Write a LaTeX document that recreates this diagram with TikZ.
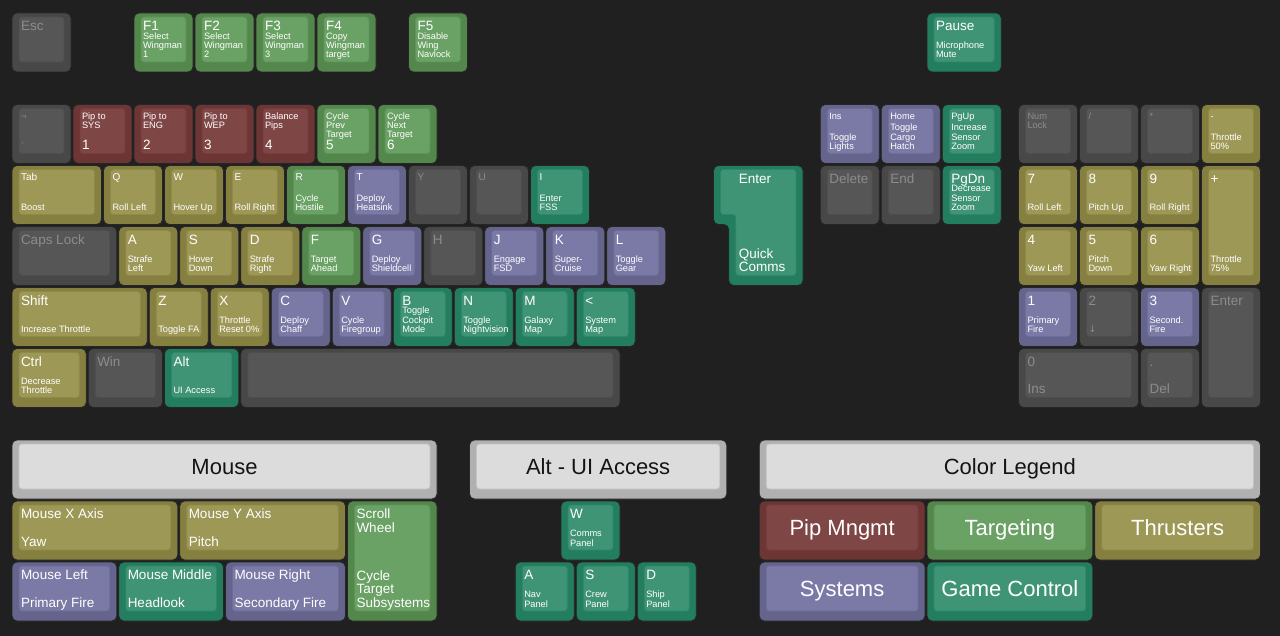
\documentclass[tikz,border=0pt]{standalone}
\usepackage{fontspec}
\setmainfont{Liberation Sans}
\newfontfamily\symfont{DejaVu Sans}

\definecolor{bgdark}{HTML}{202020}
\definecolor{kgrayO}{HTML}{484848}
\definecolor{kgrayI}{HTML}{565656}
\definecolor{kgrayT}{HTML}{8C8C8C}
\definecolor{kpipO}{HTML}{6E3535}
\definecolor{kpipI}{HTML}{7F4646}
\definecolor{ktgtO}{HTML}{54874C}
\definecolor{ktgtI}{HTML}{6AA164}
\definecolor{kthrO}{HTML}{857F40}
\definecolor{kthrI}{HTML}{9E9857}
\definecolor{ksysO}{HTML}{64648C}
\definecolor{ksysI}{HTML}{7B79A6}
\definecolor{kgameO}{HTML}{237D5F}
\definecolor{kgameI}{HTML}{409476}
\definecolor{kheadO}{HTML}{B0B0B0}
\definecolor{kheadI}{HTML}{DCDCDC}

\tikzset{
  keyout/.style={draw=black!85, line width=0.8pt, rounded corners=5pt},
  keycap/.style={line width=0.8pt, rounded corners=3pt, inner sep=0pt, outer sep=0pt},
  lab/.style={inner sep=0pt, outer sep=0pt, text=white, anchor=base west, xshift=2pt},
  tbig/.style={lab, font=\fontsize{13.5}{13}\selectfont, yshift=-13.7pt},
  tmid/.style={lab, font=\fontsize{10}{10}\selectfont, yshift=-11.2pt},
  tsml/.style={lab, font=\fontsize{9.25}{9.3}\selectfont, yshift=-10.6pt},
  bbig/.style={lab, yshift=4pt, font=\fontsize{13.5}{13}\selectfont},
  bsml/.style={lab, yshift=4pt, font=\fontsize{9.25}{9.3}\selectfont},
  dim/.style={text=kgrayT},
  midtext/.style={inner sep=0pt, text height=15.8pt, text depth=0pt, font=\fontsize{22}{22}\selectfont, text=white},
  headtext/.style={midtext, text=black!92}
}

% key: name, column, row, width, height (in key units), colour
\newcommand{\kbkey}[6]{%
  \draw[keyout, fill=#6O] ({12+#2*61},{13+#3*61}) rectangle ++({#4*61-2},{#5*61-2});
  \node[keycap, fill=#6I, draw=#6O!55!#6I, anchor=north west,
        minimum width={(#4*61-16)*1pt}, minimum height={(#5*61-16)*1pt}]
        (#1) at ({19+#2*61},{17+#3*61}) {};
}
% label lines, hung from the first baseline / stood on the last one
\newcommand{\ktop}[1]{\begin{tabular}[t]{@{}l@{}}#1\end{tabular}}
\newcommand{\kbot}[1]{\begin{tabular}[b]{@{}l@{}}#1\end{tabular}}

\begin{document}
\begin{tikzpicture}[x=1pt, y=-1pt]
\fill[bgdark] (0,0) rectangle (1280,636);

% function row
\kbkey{esc}{0}{0}{1}{1}{kgray}
\node[tbig, dim] (esc-t) at (esc.north west) {\ktop{Esc}};
\kbkey{f1}{2}{0}{1}{1}{ktgt}
\node[tbig] (f1-t) at (f1.north west) {\ktop{F1}};
\node[bsml] (f1-b) at (f1.south west) {\kbot{Select\\Wingman\\1}};
\kbkey{f2}{3}{0}{1}{1}{ktgt}
\node[tbig] (f2-t) at (f2.north west) {\ktop{F2}};
\node[bsml] (f2-b) at (f2.south west) {\kbot{Select\\Wingman\\2}};
\kbkey{f3}{4}{0}{1}{1}{ktgt}
\node[tbig] (f3-t) at (f3.north west) {\ktop{F3}};
\node[bsml] (f3-b) at (f3.south west) {\kbot{Select\\Wingman\\3}};
\kbkey{f4}{5}{0}{1}{1}{ktgt}
\node[tbig] (f4-t) at (f4.north west) {\ktop{F4}};
\node[bsml] (f4-b) at (f4.south west) {\kbot{Copy\\Wingman\\target}};
\kbkey{f5}{6.5}{0}{1}{1}{ktgt}
\node[tbig] (f5-t) at (f5.north west) {\ktop{F5}};
\node[bsml] (f5-b) at (f5.south west) {\kbot{Disable\\Wing\\Navlock}};
\kbkey{pause}{15}{0}{1.25}{1}{kgame}
\node[tbig] (pause-t) at (pause.north west) {\ktop{Pause}};
\node[bsml] (pause-b) at (pause.south west) {\kbot{Microphone\\Mute}};

% number row
\kbkey{grave}{0}{1.5}{1}{1}{kgray}
\node[tsml, dim] (grave-t) at (grave.north west) {\ktop{¬}};
\node[bsml, dim] (grave-b) at (grave.south west) {\kbot{\textasciigrave}};
\kbkey{k1}{1}{1.5}{1}{1}{kpip}
\node[tsml] (k1-t) at (k1.north west) {\ktop{Pip to\\SYS}};
\node[bbig] (k1-b) at (k1.south west) {\kbot{1}};
\kbkey{k2}{2}{1.5}{1}{1}{kpip}
\node[tsml] (k2-t) at (k2.north west) {\ktop{Pip to\\ENG}};
\node[bbig] (k2-b) at (k2.south west) {\kbot{2}};
\kbkey{k3}{3}{1.5}{1}{1}{kpip}
\node[tsml] (k3-t) at (k3.north west) {\ktop{Pip to\\WEP}};
\node[bbig] (k3-b) at (k3.south west) {\kbot{3}};
\kbkey{k4}{4}{1.5}{1}{1}{kpip}
\node[tsml] (k4-t) at (k4.north west) {\ktop{Balance\\Pips}};
\node[bbig] (k4-b) at (k4.south west) {\kbot{4}};
\kbkey{k5}{5}{1.5}{1}{1}{ktgt}
\node[tsml] (k5-t) at (k5.north west) {\ktop{Cycle\\Prev\\Target}};
\node[bbig] (k5-b) at (k5.south west) {\kbot{5}};
\kbkey{k6}{6}{1.5}{1}{1}{ktgt}
\node[tsml] (k6-t) at (k6.north west) {\ktop{Cycle\\Next\\Target}};
\node[bbig] (k6-b) at (k6.south west) {\kbot{6}};
\kbkey{ins}{13.25}{1.5}{1}{1}{ksys}
\node[tsml] (ins-t) at (ins.north west) {\ktop{Ins}};
\node[bsml] (ins-b) at (ins.south west) {\kbot{Toggle\\Lights}};
\kbkey{home}{14.25}{1.5}{1}{1}{ksys}
\node[tsml] (home-t) at (home.north west) {\ktop{Home}};
\node[bsml] (home-b) at (home.south west) {\kbot{Toggle\\Cargo\\Hatch}};
\kbkey{pgup}{15.25}{1.5}{1}{1}{kgame}
\node[tsml] (pgup-t) at (pgup.north west) {\ktop{PgUp}};
\node[bsml] (pgup-b) at (pgup.south west) {\kbot{Increase\\Sensor\\Zoom}};
\kbkey{numlock}{16.5}{1.5}{1}{1}{kgray}
\node[tsml, dim] (numlock-t) at (numlock.north west) {\ktop{Num\\Lock}};
\kbkey{slash}{17.5}{1.5}{1}{1}{kgray}
\node[tsml, dim] (slash-t) at (slash.north west) {\ktop{/}};
\kbkey{star}{18.5}{1.5}{1}{1}{kgray}
\node[tsml, dim] (star-t) at (star.north west) {\ktop{*}};
\kbkey{minus}{19.5}{1.5}{1}{1}{kthr}
\node[tsml] (minus-t) at (minus.north west) {\ktop{-}};
\node[bsml] (minus-b) at (minus.south west) {\kbot{Throttle\\50\%}};

% tab row
\kbkey{tab}{0}{2.5}{1.5}{1}{kthr}
\node[tmid] (tab-t) at (tab.north west) {\ktop{Tab}};
\node[bsml] (tab-b) at (tab.south west) {\kbot{Boost}};
\kbkey{q}{1.5}{2.5}{1}{1}{kthr}
\node[tmid] (q-t) at (q.north west) {\ktop{Q}};
\node[bsml] (q-b) at (q.south west) {\kbot{Roll Left}};
\kbkey{w}{2.5}{2.5}{1}{1}{kthr}
\node[tmid] (w-t) at (w.north west) {\ktop{W}};
\node[bsml] (w-b) at (w.south west) {\kbot{Hover Up}};
\kbkey{e}{3.5}{2.5}{1}{1}{kthr}
\node[tmid] (e-t) at (e.north west) {\ktop{E}};
\node[bsml] (e-b) at (e.south west) {\kbot{Roll Right}};
\kbkey{r}{4.5}{2.5}{1}{1}{ktgt}
\node[tmid] (r-t) at (r.north west) {\ktop{R}};
\node[bsml] (r-b) at (r.south west) {\kbot{Cycle\\Hostile}};
\kbkey{t}{5.5}{2.5}{1}{1}{ksys}
\node[tmid] (t-t) at (t.north west) {\ktop{T}};
\node[bsml] (t-b) at (t.south west) {\kbot{Deploy\\Heatsink}};
\kbkey{y}{6.5}{2.5}{1}{1}{kgray}
\node[tmid, dim] (y-t) at (y.north west) {\ktop{Y}};
\kbkey{u}{7.5}{2.5}{1}{1}{kgray}
\node[tmid, dim] (u-t) at (u.north west) {\ktop{U}};
\kbkey{i}{8.5}{2.5}{1}{1}{kgame}
\node[tmid] (i-t) at (i.north west) {\ktop{I}};
\node[bsml] (i-b) at (i.south west) {\kbot{Enter\\FSS}};
% iso enter
\draw[keyout, fill=kgameO] (713.5,165.5) -- (803,165.5) -- (803,285.5) -- (728.75,285.5)
  -- (728.75,224.5) -- (713.5,224.5) -- cycle;
\draw[keycap, fill=kgameI, draw=kgameO!55!kgameI] (720.5,169.5) -- (796,169.5) -- (796,275.5)
  -- (735.75,275.5) -- (735.75,214.5) -- (720.5,214.5) -- cycle;
\coordinate (enter) at (736.75,169.5);
\coordinate (enter-s) at (736.75,275.5);
\node[tbig] (enter-t) at (enter) {\ktop{Enter}};
\node[bbig] (enter-b) at (enter-s) {\kbot{Quick\\Comms}};
\kbkey{del}{13.25}{2.5}{1}{1}{kgray}
\node[tbig, dim] (del-t) at (del.north west) {\ktop{Delete}};
\kbkey{end}{14.25}{2.5}{1}{1}{kgray}
\node[tbig, dim] (end-t) at (end.north west) {\ktop{End}};
\kbkey{pgdn}{15.25}{2.5}{1}{1}{kgame}
\node[tbig] (pgdn-t) at (pgdn.north west) {\ktop{PgDn}};
\node[bsml] (pgdn-b) at (pgdn.south west) {\kbot{Decrease\\Sensor\\Zoom}};
\kbkey{n7}{16.5}{2.5}{1}{1}{kthr}
\node[tbig] (n7-t) at (n7.north west) {\ktop{7}};
\node[bsml] (n7-b) at (n7.south west) {\kbot{Roll Left}};
\kbkey{n8}{17.5}{2.5}{1}{1}{kthr}
\node[tbig] (n8-t) at (n8.north west) {\ktop{8}};
\node[bsml] (n8-b) at (n8.south west) {\kbot{Pitch Up}};
\kbkey{n9}{18.5}{2.5}{1}{1}{kthr}
\node[tbig] (n9-t) at (n9.north west) {\ktop{9}};
\node[bsml] (n9-b) at (n9.south west) {\kbot{Roll Right}};
\kbkey{plus}{19.5}{2.5}{1}{2}{kthr}
\node[tbig] (plus-t) at (plus.north west) {\ktop{+}};
\node[bsml] (plus-b) at (plus.south west) {\kbot{Throttle\\75\%}};

% caps row
\kbkey{caps}{0}{3.5}{1.75}{1}{kgray}
\node[tbig, dim] (caps-t) at (caps.north west) {\ktop{Caps Lock}};
\kbkey{a}{1.75}{3.5}{1}{1}{kthr}
\node[tbig] (a-t) at (a.north west) {\ktop{A}};
\node[bsml] (a-b) at (a.south west) {\kbot{Strafe\\Left}};
\kbkey{s}{2.75}{3.5}{1}{1}{kthr}
\node[tbig] (s-t) at (s.north west) {\ktop{S}};
\node[bsml] (s-b) at (s.south west) {\kbot{Hover\\Down}};
\kbkey{d}{3.75}{3.5}{1}{1}{kthr}
\node[tbig] (d-t) at (d.north west) {\ktop{D}};
\node[bsml] (d-b) at (d.south west) {\kbot{Strafe\\Right}};
\kbkey{f}{4.75}{3.5}{1}{1}{ktgt}
\node[tbig] (f-t) at (f.north west) {\ktop{F}};
\node[bsml] (f-b) at (f.south west) {\kbot{Target\\Ahead}};
\kbkey{g}{5.75}{3.5}{1}{1}{ksys}
\node[tbig] (g-t) at (g.north west) {\ktop{G}};
\node[bsml] (g-b) at (g.south west) {\kbot{Deploy\\Shieldcell}};
\kbkey{h}{6.75}{3.5}{1}{1}{kgray}
\node[tbig, dim] (h-t) at (h.north west) {\ktop{H}};
\kbkey{j}{7.75}{3.5}{1}{1}{ksys}
\node[tbig] (j-t) at (j.north west) {\ktop{J}};
\node[bsml] (j-b) at (j.south west) {\kbot{Engage\\FSD}};
\kbkey{k}{8.75}{3.5}{1}{1}{ksys}
\node[tbig] (k-t) at (k.north west) {\ktop{K}};
\node[bsml] (k-b) at (k.south west) {\kbot{Super-\\Cruise}};
\kbkey{l}{9.75}{3.5}{1}{1}{ksys}
\node[tbig] (l-t) at (l.north west) {\ktop{L}};
\node[bsml] (l-b) at (l.south west) {\kbot{Toggle\\Gear}};
\kbkey{n4}{16.5}{3.5}{1}{1}{kthr}
\node[tbig] (n4-t) at (n4.north west) {\ktop{4}};
\node[bsml] (n4-b) at (n4.south west) {\kbot{Yaw Left}};
\kbkey{n5}{17.5}{3.5}{1}{1}{kthr}
\node[tbig] (n5-t) at (n5.north west) {\ktop{5}};
\node[bsml] (n5-b) at (n5.south west) {\kbot{Pitch\\Down}};
\kbkey{n6}{18.5}{3.5}{1}{1}{kthr}
\node[tbig] (n6-t) at (n6.north west) {\ktop{6}};
\node[bsml] (n6-b) at (n6.south west) {\kbot{Yaw Right}};

% shift row
\kbkey{shift}{0}{4.5}{2.25}{1}{kthr}
\node[tbig] (shift-t) at (shift.north west) {\ktop{Shift}};
\node[bsml] (shift-b) at (shift.south west) {\kbot{Increase Throttle}};
\kbkey{z}{2.25}{4.5}{1}{1}{kthr}
\node[tbig] (z-t) at (z.north west) {\ktop{Z}};
\node[bsml] (z-b) at (z.south west) {\kbot{Toggle FA}};
\kbkey{x}{3.25}{4.5}{1}{1}{kthr}
\node[tbig] (x-t) at (x.north west) {\ktop{X}};
\node[bsml] (x-b) at (x.south west) {\kbot{Throttle\\Reset 0\%}};
\kbkey{c}{4.25}{4.5}{1}{1}{ksys}
\node[tbig] (c-t) at (c.north west) {\ktop{C}};
\node[bsml] (c-b) at (c.south west) {\kbot{Deploy\\Chaff}};
\kbkey{v}{5.25}{4.5}{1}{1}{ksys}
\node[tbig] (v-t) at (v.north west) {\ktop{V}};
\node[bsml] (v-b) at (v.south west) {\kbot{Cycle\\Firegroup}};
\kbkey{b}{6.25}{4.5}{1}{1}{kgame}
\node[tbig] (b-t) at (b.north west) {\ktop{B}};
\node[bsml] (b-b) at (b.south west) {\kbot{Toggle\\Cockpit\\Mode}};
\kbkey{n}{7.25}{4.5}{1}{1}{kgame}
\node[tbig] (n-t) at (n.north west) {\ktop{N}};
\node[bsml] (n-b) at (n.south west) {\kbot{Toggle\\Nightvision}};
\kbkey{m}{8.25}{4.5}{1}{1}{kgame}
\node[tbig] (m-t) at (m.north west) {\ktop{M}};
\node[bsml] (m-b) at (m.south west) {\kbot{Galaxy\\Map}};
\kbkey{lt}{9.25}{4.5}{1}{1}{kgame}
\node[tbig] (lt-t) at (lt.north west) {\ktop{\textless}};
\node[bsml] (lt-b) at (lt.south west) {\kbot{System\\Map}};
\kbkey{n1}{16.5}{4.5}{1}{1}{ksys}
\node[tbig] (n1-t) at (n1.north west) {\ktop{1}};
\node[bsml] (n1-b) at (n1.south west) {\kbot{Primary\\Fire}};
\kbkey{n2}{17.5}{4.5}{1}{1}{kgray}
\node[tbig, dim] (n2-t) at (n2.north west) {\ktop{2}};
\node[bsml, dim] (n2-b) at (n2.south west) {\kbot{{\symfont ↓}}};
\kbkey{n3}{18.5}{4.5}{1}{1}{ksys}
\node[tbig] (n3-t) at (n3.north west) {\ktop{3}};
\node[bsml] (n3-b) at (n3.south west) {\kbot{Second.\\Fire}};
\kbkey{nenter}{19.5}{4.5}{1}{2}{kgray}
\node[tbig, dim] (nenter-t) at (nenter.north west) {\ktop{Enter}};

% ctrl row
\kbkey{ctrl}{0}{5.5}{1.25}{1}{kthr}
\node[tbig] (ctrl-t) at (ctrl.north west) {\ktop{Ctrl}};
\node[bsml] (ctrl-b) at (ctrl.south west) {\kbot{Decrease\\Throttle}};
\kbkey{win}{1.25}{5.5}{1.25}{1}{kgray}
\node[tbig, dim] (win-t) at (win.north west) {\ktop{Win}};
\kbkey{alt}{2.5}{5.5}{1.25}{1}{kgame}
\node[tbig] (alt-t) at (alt.north west) {\ktop{Alt}};
\node[bsml] (alt-b) at (alt.south west) {\kbot{UI Access}};
\kbkey{space}{3.75}{5.5}{6.25}{1}{kgray}
\kbkey{n0}{16.5}{5.5}{2}{1}{kgray}
\node[tbig, dim] (n0-t) at (n0.north west) {\ktop{0}};
\node[bbig, dim] (n0-b) at (n0.south west) {\kbot{Ins}};
\kbkey{ndot}{18.5}{5.5}{1}{1}{kgray}
\node[tbig, dim] (ndot-t) at (ndot.north west) {\ktop{.}};
\node[bbig, dim] (ndot-b) at (ndot.south west) {\kbot{Del}};

% mouse
\kbkey{mhead}{0}{7}{7}{1}{khead}
\node[headtext] (mhead-t) at (mhead.center) {Mouse};
\kbkey{mx}{0}{8}{2.75}{1}{kthr}
\node[tbig] (mx-t) at (mx.north west) {\ktop{Mouse X Axis}};
\node[bbig] (mx-b) at (mx.south west) {\kbot{Yaw}};
\kbkey{my}{2.75}{8}{2.75}{1}{kthr}
\node[tbig] (my-t) at (my.north west) {\ktop{Mouse Y Axis}};
\node[bbig] (my-b) at (my.south west) {\kbot{Pitch}};
\kbkey{scroll}{5.5}{8}{1.5}{2}{ktgt}
\node[tbig] (scroll-t) at (scroll.north west) {\ktop{Scroll\\Wheel}};
\node[bbig] (scroll-b) at (scroll.south west) {\kbot{Cycle\\Target\\Subsystems}};
\kbkey{ml}{0}{9}{1.75}{1}{ksys}
\node[tbig] (ml-t) at (ml.north west) {\ktop{Mouse Left}};
\node[bbig] (ml-b) at (ml.south west) {\kbot{Primary Fire}};
\kbkey{mm}{1.75}{9}{1.75}{1}{kgame}
\node[tbig] (mm-t) at (mm.north west) {\ktop{Mouse Middle}};
\node[bbig] (mm-b) at (mm.south west) {\kbot{Headlook}};
\kbkey{mr}{3.5}{9}{2}{1}{ksys}
\node[tbig] (mr-t) at (mr.north west) {\ktop{Mouse Right}};
\node[bbig] (mr-b) at (mr.south west) {\kbot{Secondary Fire}};

% alt - ui access
\kbkey{ahead}{7.5}{7}{4.25}{1}{khead}
\node[headtext] (ahead-t) at (ahead.center) {Alt - UI Access};
\kbkey{uiw}{9}{8}{1}{1}{kgame}
\node[tbig] (uiw-t) at (uiw.north west) {\ktop{W}};
\node[bsml] (uiw-b) at (uiw.south west) {\kbot{Comms\\Panel}};
\kbkey{uia}{8.25}{9}{1}{1}{kgame}
\node[tbig] (uia-t) at (uia.north west) {\ktop{A}};
\node[bsml] (uia-b) at (uia.south west) {\kbot{Nav\\Panel}};
\kbkey{uis}{9.25}{9}{1}{1}{kgame}
\node[tbig] (uis-t) at (uis.north west) {\ktop{S}};
\node[bsml] (uis-b) at (uis.south west) {\kbot{Crew\\Panel}};
\kbkey{uid}{10.25}{9}{1}{1}{kgame}
\node[tbig] (uid-t) at (uid.north west) {\ktop{D}};
\node[bsml] (uid-b) at (uid.south west) {\kbot{Ship\\Panel}};

% colour legend
\kbkey{lhead}{12.25}{7}{8.25}{1}{khead}
\node[headtext] (lhead-t) at (lhead.center) {Color Legend};
\kbkey{lpip}{12.25}{8}{2.75}{1}{kpip}
\node[midtext] (lpip-t) at (lpip.center) {Pip Mngmt};
\kbkey{ltgt}{15}{8}{2.75}{1}{ktgt}
\node[midtext] (ltgt-t) at (ltgt.center) {Targeting};
\kbkey{lthr}{17.75}{8}{2.75}{1}{kthr}
\node[midtext] (lthr-t) at (lthr.center) {Thrusters};
\kbkey{lsys}{12.25}{9}{2.75}{1}{ksys}
\node[midtext] (lsys-t) at (lsys.center) {Systems};
\kbkey{lgame}{15}{9}{2.75}{1}{kgame}
\node[midtext] (lgame-t) at (lgame.center) {Game Control};
\end{tikzpicture}
\end{document}
